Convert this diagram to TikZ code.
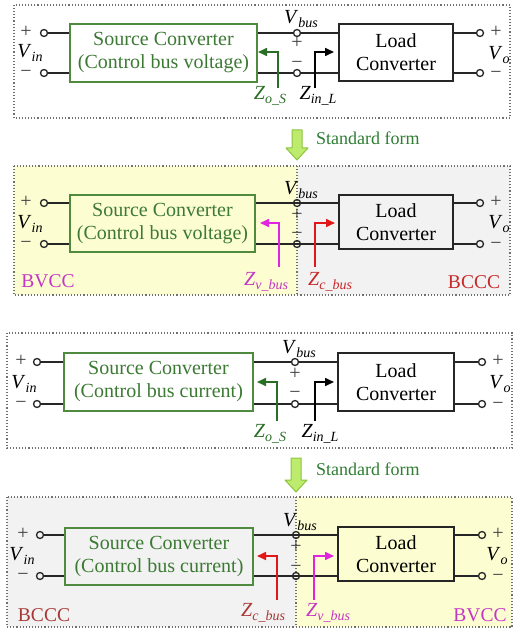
\documentclass[tikz,border=0pt]{standalone}
\usepackage{fontspec}
\setmainfont{Liberation Serif}
\usetikzlibrary{arrows.meta,calc}
\definecolor{srcg}{HTML}{4F8A3F}
\definecolor{srct}{HTML}{3C7A34}
\definecolor{zg}{HTML}{2A6E26}
\definecolor{ylw}{HTML}{FDFDD2}
\definecolor{gry}{HTML}{F2F2F2}
\definecolor{mag}{HTML}{E024E0}
\definecolor{magt}{HTML}{C436C4}
\definecolor{redA}{HTML}{E01818}
\definecolor{redt}{HTML}{C82828}
\definecolor{redd}{HTML}{A83838}
\definecolor{arrf}{HTML}{BDEB6E}
\definecolor{arrd}{HTML}{8CC43C}
\definecolor{stdt}{HTML}{2E7D32}
\definecolor{dotc}{HTML}{707070}
\newcommand\sbl[2]{\textit{#1}\raisebox{-0.45ex}{\fontsize{14}{14}\selectfont\textit{#2}}}
\begin{document}
\begin{tikzpicture}[x=1pt,y=-1pt,
  wire/.style={line width=1.6pt, draw=black!85},
  term/.style={circle, draw=black!85, line width=1.3pt, fill=white, inner sep=0pt, minimum size=7pt},
  busterm/.style={circle, draw=black!85, line width=1.3pt, inner sep=0pt, minimum size=7pt},
  srcbox/.style={draw=srcg, line width=1.7pt, text=srct, align=center, inner sep=0pt, font=\fontsize{20}{23}\selectfont},
  loadbox/.style={draw=black!85, line width=1.7pt, align=center, inner sep=0pt, font=\fontsize{20}{23}\selectfont},
  txt/.style={inner sep=0pt, font=\fontsize{20}{22}\selectfont},
  pm/.style={inner sep=0pt, text=black!75, font=\fontsize{20}{22}\selectfont, text height=9pt, text depth=0pt},
  tag/.style={inner sep=0pt, font=\fontsize{19.5}{22}\selectfont},
  panel/.style={draw=dotc, dotted, line width=1.1pt},
  zarr/.style={line width=1.6pt, -{Triangle[length=9pt,width=8pt]}},
  stdarr/.style={draw=arrd, fill=arrf, line width=1pt, line join=round},
  stdtxt/.style={inner sep=0pt, anchor=west, text=stdt, font=\fontsize{18}{20}\selectfont},
]
\useasboundingbox (0,0) rectangle (519,628);
\fill[white] (0,0) rectangle (519,628);

% ---------------- Panel 1 ----------------
\draw[panel] (14,5) rectangle (510,118);
\node[srcbox, minimum width=187pt, minimum height=58pt] (a-src) at (163.5,53) {Source Converter\\(Control bus voltage)};
\node[loadbox, minimum width=114pt, minimum height=57pt] (a-load) at (396,52.5) {Load\\Converter};
\node[term] (a-ip) at (44,33) {};
\node[term] (a-im) at (44,73) {};
\node[term] (a-op) at (480,33) {};
\node[term] (a-om) at (480,73) {};
\node[term] (a-bp) at (297,33) {};
\node[term] (a-bm) at (297,73) {};
\draw[wire] (a-ip) -- (a-ip -| a-src.west);
\draw[wire] (a-im) -- (a-im -| a-src.west);
\draw[wire] (a-bp -| a-src.east) -- (a-bp) -- (a-bp -| a-load.west);
\draw[wire] (a-bm -| a-src.east) -- (a-bm) -- (a-bm -| a-load.west);
\draw[wire] (a-op -| a-load.east) -- (a-op);
\draw[wire] (a-om -| a-load.east) -- (a-om);
\node[pm] (a-ipl) at (26,33) {+};
\node[pm] (a-iml) at (26,73) {−};
\node[txt] (a-vin) at (30,53) {\sbl{V}{in}};
\node[pm] (a-opl) at (496,33) {+};
\node[pm] (a-oml) at (496,74) {−};
\node[txt] (a-vo) at (499,55) {\sbl{V}{o}};
\node[txt] (a-vbus) at (301,19) {\sbl{V}{bus}};
\node[pm] (a-bpl) at (297,44) {+};
\node[pm] (a-bml) at (297,64) {−};
\coordinate (a-z1s) at (278,88); \coordinate (a-z1e) at (258,52);
\draw[zarr, zg] (a-z1s) |- (a-z1e);
\coordinate (a-z2s) at (315,88); \coordinate (a-z2e) at (334,52);
\draw[zarr, black] (a-z2s) |- (a-z2e);
\node[txt, text=zg] (a-z1l) at (270,96) {\sbl{Z}{o\_S}};
\node[txt] (a-z2l) at (318,96) {\sbl{Z}{in\_L}};

% ---------------- Standard form 1 ----------------
\draw[stdarr] (292,130) -- (302,130) -- (302,148) -- (308,148) -- (297,160) -- (286,148) -- (292,148) -- cycle;
\node[stdtxt] (s1) at (316,138) {Standard form};

% ---------------- Panel 2 ----------------
\fill[ylw] (14,166) rectangle (297,295);
\fill[gry] (297,166) rectangle (510,295);
\draw[panel] (14,166) rectangle (510,295);
\draw[panel] (297,166) -- (297,295);
\node[srcbox, fill=ylw, minimum width=185pt, minimum height=57pt] (b-src) at (162.5,223.5) {Source Converter\\(Control bus voltage)};
\node[loadbox, fill=gry, minimum width=114pt, minimum height=54pt] (b-load) at (396,222) {Load\\Converter};
\node[term, fill=ylw] (b-ip) at (44,203) {};
\node[term, fill=ylw] (b-im) at (44,244) {};
\node[term, fill=gry] (b-op) at (480,203) {};
\node[term, fill=gry] (b-om) at (480,244) {};
\node[busterm] (b-bp) at (297,203) {};
\node[busterm] (b-bm) at (297,244) {};
\draw[wire] (b-ip) -- (b-ip -| b-src.west);
\draw[wire] (b-im) -- (b-im -| b-src.west);
\draw[wire] (b-bp -| b-src.east) -- (b-bp -| b-load.west);
\draw[wire] (b-bm -| b-src.east) -- (b-bm -| b-load.west);
\draw[wire] (b-op -| b-load.east) -- (b-op);
\draw[wire] (b-om -| b-load.east) -- (b-om);
\node[pm] (b-ipl) at (26,203) {+};
\node[pm] (b-iml) at (26,244) {−};
\node[txt] (b-vin) at (30,224) {\sbl{V}{in}};
\node[pm] (b-opl) at (496,203) {+};
\node[pm] (b-oml) at (496,245) {−};
\node[txt] (b-vo) at (499,224) {\sbl{V}{o}};
\node[txt] (b-vbus) at (301,190) {\sbl{V}{bus}};
\node[pm] (b-bpl) at (297,216) {+};
\node[pm] (b-bml) at (297,235) {−};
\coordinate (b-z1s) at (279,267); \coordinate (b-z1e) at (260,223);
\draw[zarr, mag] (b-z1s) |- (b-z1e);
\coordinate (b-z2s) at (315,267); \coordinate (b-z2e) at (335,223);
\draw[zarr, redA] (b-z2s) |- (b-z2e);
\node[txt, text=magt] (b-z1l) at (266,282) {\sbl{Z}{v\_bus}};
\node[txt, text=redt] (b-z2l) at (330,282) {\sbl{Z}{c\_bus}};
\node[tag, text=magt] (b-bv) at (48,281) {BVCC};
\node[tag, text=redt] (b-bc) at (474,282) {BCCC};

% ---------------- Panel 3 ----------------
\draw[panel] (7,333) rectangle (512,448);
\node[srcbox, minimum width=189pt, minimum height=58pt] (c-src) at (158.5,382) {Source Converter\\(Control bus current)};
\node[loadbox, minimum width=116pt, minimum height=58pt] (c-load) at (396,382) {Load\\Converter};
\node[term] (c-ip) at (37,362) {};
\node[term] (c-im) at (37,404) {};
\node[term] (c-op) at (482,362) {};
\node[term] (c-om) at (482,404) {};
\node[term] (c-bp) at (295,362) {};
\node[term] (c-bm) at (295,404) {};
\draw[wire] (c-ip) -- (c-ip -| c-src.west);
\draw[wire] (c-im) -- (c-im -| c-src.west);
\draw[wire] (c-bp -| c-src.east) -- (c-bp) -- (c-bp -| c-load.west);
\draw[wire] (c-bm -| c-src.east) -- (c-bm) -- (c-bm -| c-load.west);
\draw[wire] (c-op -| c-load.east) -- (c-op);
\draw[wire] (c-om -| c-load.east) -- (c-om);
\node[pm] (c-ipl) at (21,362) {+};
\node[pm] (c-iml) at (21,404) {−};
\node[txt] (c-vin) at (24,384) {\sbl{V}{in}};
\node[pm] (c-opl) at (498,362) {+};
\node[pm] (c-oml) at (498,405) {−};
\node[txt] (c-vo) at (500,384) {\sbl{V}{o}};
\node[txt] (c-vbus) at (299,349) {\sbl{V}{bus}};
\node[pm] (c-bpl) at (295,375) {+};
\node[pm] (c-bml) at (295,394) {−};
\coordinate (c-z1s) at (277,421); \coordinate (c-z1e) at (257,382);
\draw[zarr, zg] (c-z1s) |- (c-z1e);
\coordinate (c-z2s) at (315,421); \coordinate (c-z2e) at (334,382);
\draw[zarr, black] (c-z2s) |- (c-z2e);
\node[txt, text=zg] (c-z1l) at (270,434) {\sbl{Z}{o\_S}};
\node[txt] (c-z2l) at (320,434) {\sbl{Z}{in\_L}};

% ---------------- Standard form 2 ----------------
\draw[stdarr] (291,458) -- (301,458) -- (301,480) -- (307,480) -- (296,492) -- (285,480) -- (291,480) -- cycle;
\node[stdtxt] (s2) at (316,469) {Standard form};

% ---------------- Panel 4 ----------------
\fill[gry] (7,497) rectangle (296,627);
\fill[ylw] (296,497) rectangle (512,627);
\draw[panel] (7,497) rectangle (512,627);
\draw[panel] (296,497) -- (296,627);
\node[srcbox, fill=gry, minimum width=188pt, minimum height=57pt] (d-src) at (159,556.5) {Source Converter\\(Control bus current)};
\node[loadbox, fill=ylw, minimum width=116pt, minimum height=54pt] (d-load) at (396,554) {Load\\Converter};
\node[term, fill=gry] (d-ip) at (40,535) {};
\node[term, fill=gry] (d-im) at (40,576) {};
\node[term, fill=ylw] (d-op) at (482,535) {};
\node[term, fill=ylw] (d-om) at (482,576) {};
\node[busterm] (d-bp) at (296,535) {};
\node[busterm] (d-bm) at (296,576) {};
\draw[wire] (d-ip) -- (d-ip -| d-src.west);
\draw[wire] (d-im) -- (d-im -| d-src.west);
\draw[wire] (d-bp -| d-src.east) -- (d-bp -| d-load.west);
\draw[wire] (d-bm -| d-src.east) -- (d-bm -| d-load.west);
\draw[wire] (d-op -| d-load.east) -- (d-op);
\draw[wire] (d-om -| d-load.east) -- (d-om);
\node[pm] (d-ipl) at (23,535) {+};
\node[pm] (d-iml) at (23,576) {−};
\node[txt] (d-vin) at (22,556) {\sbl{V}{in}};
\node[pm] (d-opl) at (498,535) {+};
\node[pm] (d-oml) at (498,577) {−};
\node[txt] (d-vo) at (497,556) {\sbl{V}{o}};
\node[txt] (d-vbus) at (300,522) {\sbl{V}{bus}};
\node[pm] (d-bpl) at (296,548) {+};
\node[pm] (d-bml) at (296,568) {−};
\coordinate (d-z1s) at (277,600); \coordinate (d-z1e) at (257,556);
\draw[zarr, redA] (d-z1s) |- (d-z1e);
\coordinate (d-z2s) at (314,600); \coordinate (d-z2e) at (334,556);
\draw[zarr, mag] (d-z2s) |- (d-z2e);
\node[txt, text=redd] (d-z1l) at (263,613) {\sbl{Z}{c\_bus}};
\node[txt, text=magt] (d-z2l) at (328,613) {\sbl{Z}{v\_bus}};
\node[tag, text=redd] (d-bc) at (44,615) {BCCC};
\node[tag, text=magt] (d-bv) at (480,615) {BVCC};
\end{tikzpicture}
\end{document}
